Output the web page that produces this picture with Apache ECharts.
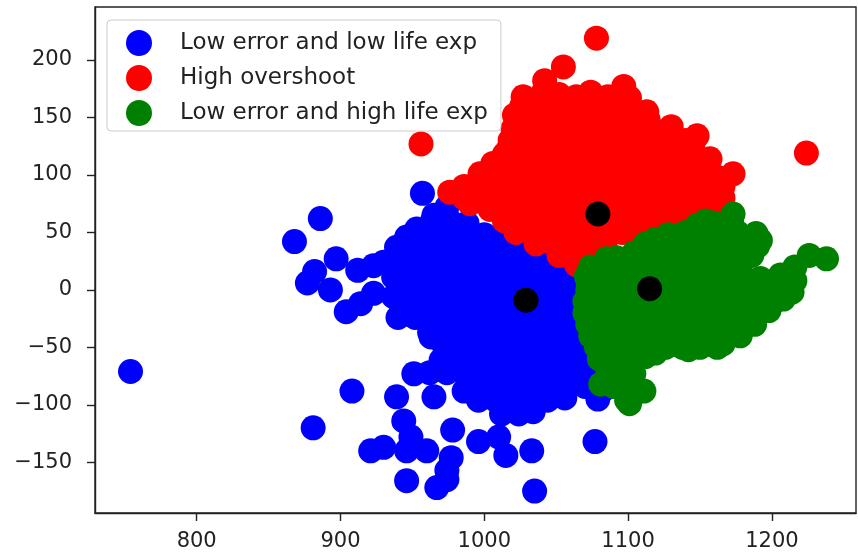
<!DOCTYPE html>
<html>
<head>
<meta charset="utf-8">
<script src="https://cdn.jsdelivr.net/npm/echarts/dist/echarts.min.js"></script>
<style>
  html, body { margin: 0; padding: 0; background: #fff; }
  #clusterChart { width: 858px; height: 552px; }
</style>
</head>
<body>
<div id="clusterChart"></div>
<script>
// legend names, in drawing order
const seriesNames = ["Low error and low life exp", "High overshoot", "Low error and high life exp"];

const xTicks = [800, 900, 1000, 1100, 1200];
const yTicks = [-150, -100, -50, 0, 50, 100, 150, 200];

// cluster 0 - blue
const lowLifePoints = [
  [754, -71], [881, -120], [908, -88], [868, 42], [886, 62], [957, 84],
  [877, 6], [882, 16], [897, 27], [893, 0], [904, -19], [912, 17], [923, 21], [923, -3], [914, -12], [937, 11], [937, -6],
  [965, 65], [974, 72], [953, 53], [946, 46], [939, 37],
  [964, 60], [976, 60], [988, 58],
  [952, 48], [964, 48], [976, 48], [988, 48], [1000, 48], [1010, 46],
  [940, 36], [952, 36], [964, 36], [976, 38], [988, 36], [1000, 36], [1012, 36], [1024, 34],
  [930, 24], [942, 24], [954, 24], [966, 22], [978, 24], [990, 24], [1002, 24], [1014, 24], [1026, 24], [1038, 24], [1048, 22],
  [940, 12], [952, 12], [964, 12], [976, 12], [988, 12], [1000, 12], [1012, 12], [1024, 12], [1036, 12], [1048, 12], [1060, 12],
  [942, 0], [954, 0], [966, 0], [978, 0], [990, 0], [1002, 0], [1014, 0], [1026, 0], [1038, 0], [1050, 0], [1062, 0], [1072, 0],
  [942, -12], [954, -12], [966, -12], [978, -12], [990, -12], [1002, -12], [1014, -12], [1026, -12], [1038, -12], [1050, -12], [1062, -12], [1072, -12],
  [940, -24], [952, -24], [964, -24], [976, -24], [988, -24], [1000, -24], [1012, -24], [1024, -24], [1036, -24], [1048, -24], [1060, -24], [1072, -24],
  [962, -37], [974, -36], [986, -36], [998, -36], [1010, -36], [1022, -36], [1034, -36], [1046, -36], [1058, -36], [1070, -36],
  [972, -48], [984, -48], [996, -48], [1008, -48], [1020, -48], [1032, -48], [1044, -48], [1056, -48], [1068, -48],
  [970, -61], [982, -60], [994, -60], [1006, -60], [1018, -60], [1030, -60], [1042, -60], [1054, -60], [1066, -60], [1076, -60],
  [951, -73], [962, -72], [974, -72], [986, -72], [998, -72], [1010, -72], [1022, -72], [1034, -72], [1046, -72], [1058, -72], [1070, -72], [1080, -72],
  [986, -88], [998, -84], [1010, -84], [1022, -84], [1034, -84], [1046, -84], [1058, -84], [1070, -84], [1084, -86],
  [996, -96], [1008, -96], [1020, -96], [1032, -96], [1044, -96], [1056, -94], [1079, -95],
  [1012, -108], [1024, -108], [1034, -106],
  [939, -93], [965, -93], [944, -114], [949, -128], [946, -140], [921, -140], [930, -137], [946, -166], [967, -172],
  [974, -165], [974, -157], [960, -140], [977, -146], [978, -122], [996, -132], [1010, -128], [1015, -144], [1033, -140],
  [1035, -175], [1077, -132], [981, -55], [963, -41]
];

// cluster 1 - red
const overshootPoints = [
  [956, 127], [1078, 219], [1224, 119],
  [976, 85], [990, 75], [997, 101], [1017, 123], [1021, 152], [1027, 168], [1042, 182], [1055, 194], [1074, 172], [1097, 177],
  [1101, 167], [1113, 155], [1130, 142], [1148, 134], [1157, 114], [1173, 101], [1166, 90], [1145, 124], [1138, 116], [1155, 101],
  [1040, 170], [1052, 170], [1064, 168], [1086, 168],
  [1026, 160], [1038, 160], [1050, 160], [1062, 160], [1074, 160], [1086, 160], [1098, 158],
  [1032, 150], [1044, 150], [1056, 150], [1068, 150], [1080, 150], [1092, 150], [1104, 150], [1114, 148],
  [1020, 140], [1032, 140], [1044, 140], [1056, 140], [1068, 140], [1080, 140], [1092, 140], [1104, 140], [1116, 140], [1126, 138],
  [1018, 130], [1030, 130], [1042, 130], [1054, 130], [1066, 130], [1078, 130], [1090, 130], [1102, 130], [1114, 130], [1126, 130], [1140, 130],
  [1014, 118], [1026, 120], [1038, 120], [1050, 120], [1062, 120], [1074, 120], [1086, 120], [1098, 120], [1110, 120], [1122, 120], [1134, 120], [1146, 118],
  [1006, 110], [1018, 110], [1030, 110], [1042, 110], [1054, 110], [1066, 110], [1078, 110], [1090, 110], [1102, 110], [1114, 110], [1126, 110], [1138, 108],
  [998, 100], [1010, 100], [1022, 100], [1034, 100], [1046, 100], [1058, 100], [1070, 100], [1082, 100], [1094, 100], [1106, 100], [1118, 100], [1130, 100], [1142, 100], [1162, 98],
  [986, 90], [998, 90], [1010, 90], [1022, 90], [1034, 90], [1046, 90], [1058, 90], [1070, 90], [1082, 90], [1094, 90], [1106, 90], [1118, 90], [1130, 90], [1142, 90], [1154, 90],
  [986, 80], [998, 80], [1010, 80], [1022, 80], [1034, 80], [1046, 80], [1058, 80], [1070, 80], [1082, 80], [1094, 80], [1106, 80], [1118, 80], [1130, 80], [1142, 80], [1154, 80], [1166, 80],
  [1004, 70], [1016, 70], [1028, 70], [1040, 70], [1052, 70], [1064, 70], [1076, 70], [1088, 70], [1100, 70], [1112, 70], [1124, 70], [1136, 70], [1148, 70], [1160, 70],
  [1014, 60], [1028, 60], [1040, 60], [1052, 60], [1064, 60], [1076, 60], [1088, 60], [1100, 60], [1112, 60], [1124, 60], [1134, 60],
  [1022, 50], [1036, 50], [1048, 50], [1060, 50], [1072, 50], [1084, 50], [1096, 50], [1108, 50],
  [1036, 40], [1048, 40], [1060, 40], [1072, 40], [1084, 40],
  [1052, 30], [1064, 30], [1074, 30], [1064, 22]
];

// cluster 2 - green
const highLifePoints = [
  [1071, 12], [1085, 27], [1119, 44], [1154, 60], [1173, 66], [1189, 49], [1192, 43], [1206, 13], [1216, 20], [1226, 30], [1238, 27],
  [1166, -47], [1142, -52], [1119, -55], [1104, -73], [1108, -88], [1099, -96], [1081, -82], [1101, -99], [1111, -88],
  [1148, 56], [1160, 58], [1172, 58],
  [1128, 48], [1140, 50], [1152, 50], [1164, 50], [1176, 50], [1186, 46],
  [1112, 40], [1120, 40], [1132, 40], [1144, 40], [1156, 40], [1168, 40], [1180, 40], [1190, 38],
  [1092, 28], [1104, 32], [1116, 30], [1128, 30], [1140, 30], [1152, 30], [1164, 30], [1176, 30], [1186, 30],
  [1074, 20], [1086, 20], [1098, 20], [1110, 20], [1122, 20], [1134, 20], [1146, 20], [1158, 20], [1170, 20], [1178, 20],
  [1072, 8], [1084, 10], [1096, 10], [1108, 10], [1120, 10], [1132, 10], [1144, 10], [1156, 10], [1168, 10], [1180, 10], [1192, 10], [1204, 8], [1216, 8],
  [1072, 0], [1084, 0], [1096, 0], [1108, 0], [1120, 0], [1132, 0], [1144, 0], [1156, 0], [1168, 0], [1180, 0], [1192, 0], [1204, 0], [1214, -2],
  [1070, -10], [1082, -10], [1094, -10], [1106, -10], [1118, -10], [1130, -10], [1142, -10], [1154, -10], [1166, -10], [1178, -10], [1190, -10], [1202, -10], [1208, -8],
  [1070, -20], [1082, -20], [1094, -20], [1106, -20], [1118, -20], [1130, -20], [1142, -20], [1154, -20], [1166, -20], [1178, -20], [1190, -20], [1198, -18],
  [1072, -30], [1084, -30], [1096, -30], [1108, -30], [1120, -30], [1132, -30], [1144, -30], [1156, -30], [1168, -30], [1180, -30], [1188, -30],
  [1074, -40], [1086, -40], [1098, -40], [1110, -40], [1122, -40], [1134, -40], [1146, -40], [1158, -40], [1170, -40], [1178, -40],
  [1078, -50], [1090, -50], [1102, -50], [1114, -50], [1126, -50], [1138, -50], [1150, -50], [1162, -50],
  [1080, -60], [1092, -60], [1104, -60], [1112, -58],
  [1086, -72], [1098, -72], [1090, -84], [1100, -84]
];

// k-means centres
const centroids = [[1029, -9], [1079, 66], [1115, 1]];

const clusterColors = ["#0000ff", "#ff0000", "#008000"];

function minusSign(v) {
  return v < 0 ? "\u2212" + (-v) : String(v);
}

const chart = echarts.init(document.getElementById("clusterChart"), null, { renderer: "canvas" });

const clusterSeries = [lowLifePoints, overshootPoints, highLifePoints].map((pts, i) => ({
  name: seriesNames[i],
  type: "scatter",
  data: pts,
  symbol: "circle",
  symbolSize: 25,
  itemStyle: { color: clusterColors[i], opacity: 1 },
  emphasis: { disabled: true }
}));

const spine = { color: "#222", width: 1.4 };

const option = {
  animation: false,
  backgroundColor: "#fff",
  textStyle: { fontFamily: "DejaVu Sans" },
  grid: {
    left: 95, right: 2, top: 7, bottom: 39,
    show: true,
    borderColor: "#222",
    borderWidth: 1.4,
    backgroundColor: "transparent"
  },
  legend: {
    data: seriesNames,
    orient: "vertical",
    left: 107,
    top: 20,
    icon: "circle",
    itemWidth: 26,
    itemHeight: 26,
    itemGap: 9,
    padding: [10, 13, 5, 19],
    selectedMode: false,
    borderColor: "#ccc",
    borderWidth: 1,
    borderRadius: 4,
    backgroundColor: "rgba(255,255,255,0.8)",
    textStyle: { fontFamily: "DejaVu Sans", fontSize: 23, color: "#222", padding: [0, 0, 0, 23] }
  },
  xAxis: {
    type: "value",
    min: 729.3,
    max: 1258.5,
    splitLine: { show: false },
    axisLine: { show: true, onZero: false, lineStyle: spine },
    axisTick: { show: true, length: 8, lineStyle: spine, customValues: xTicks },
    axisLabel: {
      customValues: xTicks, fontSize: 21, color: "#222", margin: 18, fontFamily: "DejaVu Sans",
      formatter: (v) => String(v)
    }
  },
  yAxis: {
    type: "value",
    min: -194.1,
    max: 246.1,
    splitLine: { show: false },
    axisLine: { show: true, onZero: false, lineStyle: spine },
    axisTick: { show: true, length: 8, lineStyle: spine, customValues: yTicks },
    axisLabel: { customValues: yTicks, fontSize: 21, color: "#222", margin: 23, fontFamily: "DejaVu Sans", formatter: minusSign }
  },
  series: clusterSeries.concat([{
    name: "centroids",
    type: "scatter",
    data: centroids,
    symbol: "circle",
    symbolSize: 25,
    itemStyle: { color: "#000", opacity: 1 },
    emphasis: { disabled: true }
  }])
};

chart.setOption(option);
</script>
</body>
</html>
